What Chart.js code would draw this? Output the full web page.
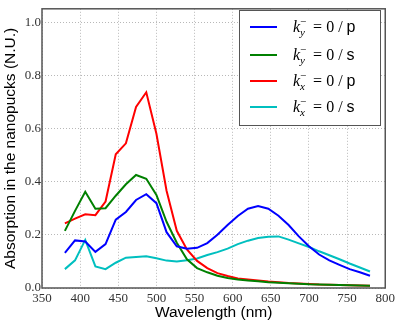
<!DOCTYPE html>
<html>
<head>
<meta charset="utf-8">
<script src="https://cdn.jsdelivr.net/npm/chart.js@4"></script>
<style>
  html, body { margin: 0; padding: 0; background: #fff; }
  #wrap { width: 398px; height: 324px; }
</style>
</head>
<body>
<div id="wrap"><canvas id="absChart" width="398" height="324"></canvas></div>
<script>
// wavelengths (nm)
const wavelengths = [380, 393.3, 406.7, 420, 433.3, 446.7, 460, 473.3, 486.7, 500,
    513.3, 526.7, 540, 553.3, 566.7, 580, 593.3, 606.7, 620, 633.3,
    646.7, 660, 673.3, 686.7, 700, 713.3, 726.7, 740, 753.3, 766.7, 780];

const kyP = [0.132, 0.179, 0.175, 0.136, 0.165, 0.257, 0.286, 0.331, 0.353, 0.319,
    0.210, 0.157, 0.148, 0.151, 0.169, 0.200, 0.237, 0.271, 0.298, 0.308,
    0.298, 0.272, 0.237, 0.194, 0.157, 0.126, 0.104, 0.087, 0.071, 0.059, 0.046];
const kyS = [0.215, 0.290, 0.362, 0.298, 0.300, 0.347, 0.390, 0.425, 0.411, 0.350,
    0.249, 0.170, 0.108, 0.075, 0.059, 0.046, 0.038, 0.032, 0.028, 0.025,
    0.022, 0.020, 0.018, 0.016, 0.014, 0.013, 0.012, 0.011, 0.010, 0.009, 0.008];
const kxP = [0.243, 0.261, 0.277, 0.274, 0.325, 0.503, 0.544, 0.681, 0.736, 0.580,
    0.366, 0.215, 0.145, 0.102, 0.075, 0.056, 0.045, 0.036, 0.032, 0.028,
    0.024, 0.022, 0.019, 0.017, 0.015, 0.013, 0.012, 0.011, 0.010, 0.009, 0.008];
const kxS = [0.071, 0.104, 0.181, 0.081, 0.071, 0.095, 0.114, 0.117, 0.119, 0.112,
    0.103, 0.100, 0.104, 0.111, 0.124, 0.135, 0.148, 0.165, 0.178, 0.188,
    0.193, 0.194, 0.182, 0.168, 0.154, 0.138, 0.123, 0.108, 0.092, 0.077, 0.062];

const xTicks = [350, 400, 450, 500, 550, 600, 650, 700, 750, 800];
const yTicks = [0.0, 0.2, 0.4, 0.6, 0.8, 1.0];

// legend text pieces: k_{sub}^- = 0 / pol
const legendSub = ["y", "y", "x", "x"];
const legendPol = ["p", "s", "p", "s"];

const colors = ["#0000ff", "#008000", "#ff0000", "#00bfbf"];
const series = [kyP, kyS, kxP, kxS];

const SERIF = "'Liberation Serif', 'DejaVu Serif', serif";

function toPoints(vals) {
    return vals.map((v, i) => ({ x: wavelengths[i], y: v }));
}

// frame + matplotlib-ish legend
const framePlugin = {
    id: "frame",
    afterDraw(chart) {
        const { ctx, chartArea: a } = chart;
        ctx.save();
        ctx.strokeStyle = "#555";
        ctx.lineWidth = 1.5;
        ctx.strokeRect(a.left, a.top, a.right - a.left, a.bottom - a.top);

        // legend box
        const bx = 239, by = 10, bw = 141, bh = 115;
        ctx.fillStyle = "#fff";
        ctx.fillRect(bx, by, bw, bh);
        ctx.strokeStyle = "#555";
        ctx.lineWidth = 1;
        ctx.strokeRect(bx + 0.5, by + 0.5, bw, bh);

        const rows = [27, 55, 81, 107];
        rows.forEach((ry, i) => {
            ctx.strokeStyle = colors[i];
            ctx.lineWidth = 2;
            ctx.beginPath();
            ctx.moveTo(250, ry);
            ctx.lineTo(277, ry);
            ctx.stroke();

            ctx.fillStyle = "#000";
            ctx.textBaseline = "alphabetic";
            ctx.textAlign = "left";
            let x = 293;
            const base = ry + 5;
            ctx.font = "italic 16px " + SERIF;
            ctx.fillText("k", x, base);
            const kw = ctx.measureText("k").width;
            ctx.font = "italic 11px " + SERIF;
            ctx.fillText(legendSub[i], x + kw, base + 4);
            ctx.font = "11px " + SERIF;
            ctx.fillText("\u2212", x + kw, base - 7);
            x += kw + 9;
            ctx.font = "16px " + SERIF;
            ctx.fillText(" = 0 / ", x, base);
            x += ctx.measureText(" = 0 / ").width;
            ctx.font = "16px 'Liberation Sans', Arial, sans-serif";
            ctx.fillText(legendPol[i], x, base);
        });
        ctx.restore();
    }
};

const tickFont = { family: SERIF, size: 13 };
const titleFont = { family: "'Liberation Sans', Arial, sans-serif", size: 15.5 };
const gridOpts = { color: "rgba(0,0,0,0.28)", lineWidth: 1, drawTicks: false };

new Chart(document.getElementById("absChart").getContext("2d"), {
    type: "line",
    data: {
        datasets: series.map((vals, i) => ({
            label: "k" + legendSub[i] + " = 0 / " + legendPol[i],
            data: toPoints(vals),
            borderColor: colors[i],
            backgroundColor: colors[i],
            borderWidth: 2,
            pointRadius: 0,
            tension: 0,
            fill: false,
        })),
    },
    options: {
        responsive: false,
        animation: false,
        layout: { padding: { top: 2, right: 10, left: 0, bottom: 0 } },
        plugins: {
            legend: { display: false },
            tooltip: { enabled: false },
        },
        scales: {
            x: {
                type: "linear",
                min: 350,
                max: 800,
                afterBuildTicks: (s) => { s.ticks = xTicks.map((v) => ({ value: v })); },
                afterFit: (s) => { s.height = 36; },
                ticks: { font: tickFont, color: "#333", padding: 3, maxRotation: 0,
                    callback: (v) => String(v) },
                grid: gridOpts,
                border: { display: false, dash: [1, 2] },
                title: {
                    display: true,
                    text: "Wavelength (nm)",
                    font: titleFont,
                    color: "#000",
                    padding: { top: 0, bottom: 2 },
                },
            },
            y: {
                min: 0,
                max: 1.05,
                afterBuildTicks: (s) => { s.ticks = yTicks.map((v) => ({ value: v })); },
                afterFit: (s) => { s.width = 42; },
                ticks: { font: tickFont, color: "#333", padding: 1,
                    callback: (v) => v.toFixed(1) },
                grid: gridOpts,
                border: { display: false, dash: [1, 2] },
                title: {
                    display: true,
                    text: "Absorption in the nanopucks (N.U.)",
                    font: titleFont,
                    color: "#000",
                    padding: { top: 1, bottom: 0 },
                },
            },
        },
    },
    plugins: [framePlugin],
});
</script>
</body>
</html>
